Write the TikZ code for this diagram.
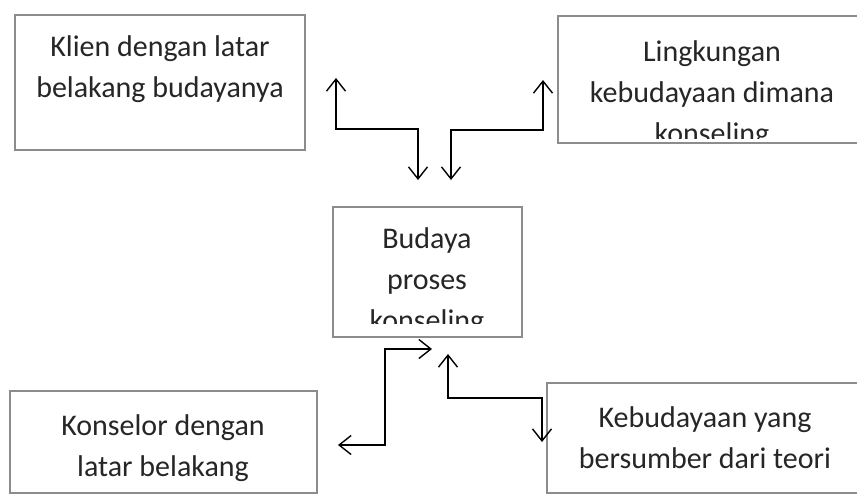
\documentclass[tikz,border=0pt]{standalone}
\usepackage{fontspec}
\setmainfont{Carlito}
\usetikzlibrary{arrows.meta}

\tikzset{
  box/.style={draw=black!45, line width=2.4pt, rectangle, inner sep=0pt},
  boxtext/.style={align=center, font=\fontsize{30}{41}\selectfont, text=black!85},
  link/.style={line width=1.4pt, {Straight Barb[length=12pt,width=19pt]}-{Straight Barb[length=12pt,width=19pt]}}
}

\begin{document}
\begin{tikzpicture}[x=1pt,y=-1pt]
  \useasboundingbox[fill=white] (0,0) rectangle (857,496);

  \node[box, minimum width=290pt, minimum height=135pt] (klien) at (160,82.5) {};
  \node[box, minimum width=308pt, minimum height=127pt] (lingkungan) at (712,79.5) {};
  \node[box, minimum width=189pt, minimum height=130pt] (budaya) at (427.5,272) {};
  \node[box, minimum width=307pt, minimum height=102pt] (konselor) at (163.5,442) {};
  \node[box, minimum width=320pt, minimum height=110pt] (kebudayaan) at (707,438) {};

  \node[boxtext] (klien-t) at (160,69) {Klien dengan latar\\belakang budayanya};
  \begin{scope}
    \clip (558,16) rectangle (870,138);
    \node[boxtext] (lingkungan-t) at (712,95) {Lingkungan\\kebudayaan dimana\\konseling};
  \end{scope}
  \begin{scope}
    \clip (333,207) rectangle (522,323);
    \node[boxtext] (budaya-t) at (427,282) {Budaya\\proses\\konseling};
  \end{scope}
  \node[boxtext] (konselor-t) at (163,448) {Konselor dengan\\latar belakang};
  \node[boxtext] (kebudayaan-t) at (705,438) {Kebudayaan yang\\bersumber dari teori};

  \coordinate (kb-a) at (336,78);
  \coordinate (kb-m) at (418,129);
  \coordinate (kb-b) at (418,180);
  \coordinate (lb-a) at (543,80);
  \coordinate (lb-m) at (451,130);
  \coordinate (lb-b) at (451,180);
  \coordinate (bk-a) at (432,349);
  \coordinate (bk-m) at (385,445);
  \coordinate (bk-b) at (338,445);
  \coordinate (bt-a) at (448,354);
  \coordinate (bt-m) at (542,398);
  \coordinate (bt-b) at (542,442);

  \draw[link] (kb-a) |- (kb-m) -- (kb-b);
  \draw[link] (lb-a) |- (lb-m) -- (lb-b);
  \draw[link] (bk-a) -| (bk-m) -- (bk-b);
  \draw[link] (bt-a) |- (bt-m) -- (bt-b);
\end{tikzpicture}
\end{document}
